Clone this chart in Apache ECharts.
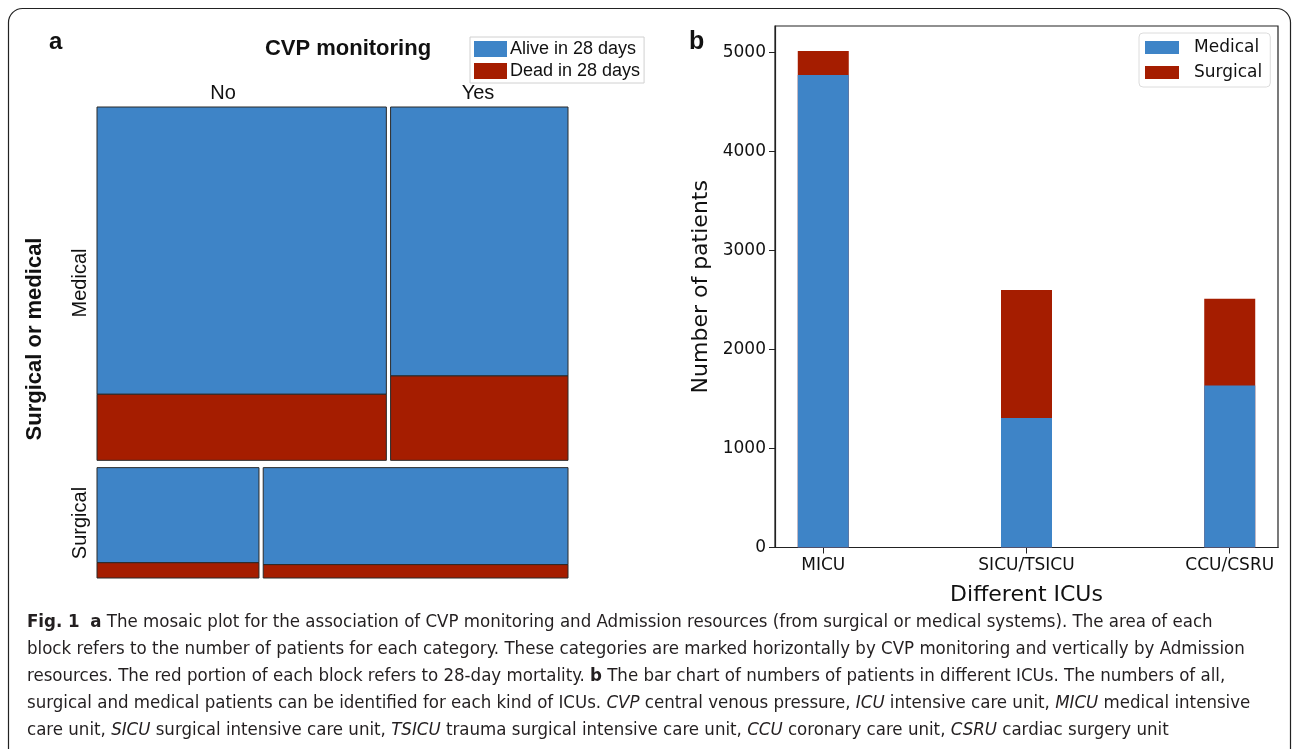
<!DOCTYPE html>
<html>
<head>
<meta charset="utf-8">
<script src="https://cdn.jsdelivr.net/npm/echarts@6/dist/echarts.min.js"></script>
<style>
    html, body { margin: 0; padding: 0; background: #fff; }
    #main { width: 1293px; height: 749px; }
</style>
</head>
<body>
<div id="main"></div>
<script>
    // panel a: mosaic (rows = admission source, cols = CVP monitoring)
    var rowNames = ['Medical', 'Surgical'];
    var colNames = ['No', 'Yes'];
    var aliveCounts = [[3892, 2234], [721, 1384]];
    var deadCounts = [[895, 701], [116, 191]];

    // panel b: patients per ICU
    var icuNames = ['MICU', 'SICU/TSICU', 'CCU/CSRU'];
    var medicalCounts = [4776, 1308, 1638];
    var surgicalCounts = [242, 1295, 875];
    var yTicks = [0, 1000, 2000, 3000, 4000, 5000];

    var blue = '#3e84c7', red = '#a51d00';
    var gapX = 0.009, gapY = 0.0155;

    // mosaic layout in 0..1 units, computed from the counts
    function mosaicCell(r, c) {
        var rowTot = [], grand = 0;
        for (var i = 0; i < rowNames.length; i++) {
            var t = 0;
            for (var j = 0; j < colNames.length; j++) t += aliveCounts[i][j] + deadCounts[i][j];
            rowTot.push(t);
            grand += t;
        }
        var hAvail = 1 - gapY * (rowNames.length - 1);
        var y0 = r * gapY;
        for (var i = 0; i < r; i++) y0 += hAvail * rowTot[i] / grand;
        var h = hAvail * rowTot[r] / grand;
        var wAvail = 1 - gapX * (colNames.length - 1);
        var x0 = c * gapX;
        for (var j = 0; j < c; j++) x0 += wAvail * (aliveCounts[r][j] + deadCounts[r][j]) / rowTot[r];
        var cellTot = aliveCounts[r][c] + deadCounts[r][c];
        var w = wAvail * cellTot / rowTot[r];
        return { x0: x0, x1: x0 + w, y0: y0, y1: y0 + h, split: y0 + h * aliveCounts[r][c] / cellTot };
    }

    function renderCell(params, api) {
        var cell = mosaicCell(api.value(0), api.value(1));
        var dead = api.value(2) === 1;
        var p0 = api.coord([cell.x0, dead ? cell.split : cell.y0]);
        var p1 = api.coord([cell.x1, dead ? cell.y1 : cell.split]);
        return {
            type: 'rect',
            shape: { x: p0[0], y: p0[1], width: p1[0] - p0[0], height: p1[1] - p0[1] },
            style: { fill: api.visual('color'), stroke: '#2a2a2a', lineWidth: 1 }
        };
    }

    function cellData(part) {
        var out = [];
        for (var r = 0; r < rowNames.length; r++) {
            for (var c = 0; c < colNames.length; c++) out.push([r, c, part]);
        }
        return out;
    }

    // bars sit on a numeric x axis (0,1,2), the red part is drawn as the full total behind the blue one
    var medicalPairs = medicalCounts.map(function (v, i) { return [i, v]; });
    var totalPairs = medicalCounts.map(function (v, i) { return [i, v + surgicalCounts[i]]; });

    var captionFont = "'Liberation Sans Narrow', 'DejaVu Sans Condensed', sans-serif";
    var captionSize = 18.5;
    var captionLines = [
        '{b|Fig. 1}  {b|a} The mosaic plot for the association of CVP monitoring and Admission resources (from surgical or medical systems). The area of each',
        'block refers to the number of patients for each category. These categories are marked horizontally by CVP monitoring and vertically by Admission',
        'resources. The red portion of each block refers to 28-day mortality. {b|b} The bar chart of numbers of patients in different ICUs. The numbers of all,',
        'surgical and medical patients can be identified for each kind of ICUs. {i|CVP} central venous pressure, {i|ICU} intensive care unit, {i|MICU} medical intensive',
        'care unit, {i|SICU} surgical intensive care unit, {i|TSICU} trauma surgical intensive care unit, {i|CCU} coronary care unit, {i|CSRU} cardiac surgery unit'
    ];

    function drawChart() {
        var chart = echarts.init(document.getElementById('main'));
        var graphics = [
            {
                type: 'rect', silent: true, z: -1,
                shape: { x: 8.5, y: 8.5, width: 1282, height: 760, r: 14 },
                style: { fill: 'none', stroke: '#222', lineWidth: 1.2 }
            },
            { type: 'text', x: 49, y: 30, style: { text: 'a', font: 'bold 24px Liberation Sans', fill: '#111' } },
            { type: 'text', x: 689, y: 30, style: { text: 'b', font: 'bold 25px Liberation Sans', fill: '#111' } },
            { type: 'text', x: 348, y: 49, style: { text: 'CVP monitoring', font: 'bold 22px Liberation Sans', fill: '#111', align: 'center', verticalAlign: 'middle' } },
            { type: 'text', x: 223, y: 93, style: { text: colNames[0], font: '20px Liberation Sans', fill: '#111', align: 'center', verticalAlign: 'middle' } },
            { type: 'text', x: 478, y: 93, style: { text: colNames[1], font: '20px Liberation Sans', fill: '#111', align: 'center', verticalAlign: 'middle' } },
            { type: 'text', x: 80, y: 283, rotation: Math.PI / 2, style: { text: rowNames[0], font: '20px Liberation Sans', fill: '#111', align: 'center', verticalAlign: 'middle' } },
            { type: 'text', x: 80, y: 523, rotation: Math.PI / 2, style: { text: rowNames[1], font: '20px Liberation Sans', fill: '#111', align: 'center', verticalAlign: 'middle' } },
            { type: 'text', x: 35, y: 339, rotation: Math.PI / 2, style: { text: 'Surgical or medical', font: 'bold 22px Liberation Sans', fill: '#111', align: 'center', verticalAlign: 'middle' } }
        ];
        captionLines.forEach(function (line, i) {
            graphics.push({
                type: 'text', x: 27, y: 622 + i * 27,
                style: {
                    text: line, fontFamily: captionFont, fontSize: captionSize, fill: '#231f20', verticalAlign: 'middle',
                    rich: {
                        b: { fontFamily: captionFont, fontSize: captionSize, fontWeight: 'bold', fill: '#231f20' },
                        i: { fontFamily: captionFont, fontSize: captionSize, fontStyle: 'italic', fill: '#231f20' }
                    }
                }
            });
        });

        chart.setOption({
            animation: false,
            graphic: graphics,
            legend: [
                {
                    data: ['Alive in 28 days', 'Dead in 28 days'],
                    orient: 'vertical', left: 470, top: 37,
                    itemWidth: 33, itemHeight: 16, itemGap: 4, icon: 'rect',
                    padding: [3, 4, 3, 4],
                    borderColor: '#d0d0d0', borderWidth: 1,
                    textStyle: { fontFamily: 'Liberation Sans', fontSize: 18, color: '#111', padding: [0, 0, 0, -2] }
                },
                {
                    data: ['Medical', 'Surgical'],
                    orient: 'vertical', left: 1139, top: 33,
                    itemWidth: 34, itemHeight: 13, itemGap: 8, icon: 'rect',
                    padding: [6, 8, 6, 6],
                    borderColor: '#dcdcdc', borderWidth: 1, borderRadius: 4,
                    textStyle: { fontFamily: 'DejaVu Sans', fontSize: 17, color: '#111', padding: [0, 0, 0, 10] }
                }
            ],
            grid: [
                { left: 97, top: 107, width: 471, height: 471 },
                { left: 775, top: 26, right: 15, bottom: 201.5, show: true, borderColor: '#222', borderWidth: 1.2, backgroundColor: 'transparent' }
            ],
            xAxis: [
                { gridIndex: 0, type: 'value', min: 0, max: 1, show: false },
                {
                    gridIndex: 1, type: 'value', min: -0.2375, max: 2.2375,
                    name: 'Different ICUs', nameLocation: 'middle', nameGap: 37,
                    nameTextStyle: { fontFamily: 'DejaVu Sans', fontSize: 22, color: '#111' },
                    axisLine: { onZero: false, lineStyle: { color: '#222', width: 1.2 } },
                    axisTick: { length: 6, lineStyle: { color: '#222' }, customValues: [0, 1, 2] },
                    splitLine: { show: false },
                    axisLabel: {
                        customValues: [0, 1, 2], margin: 10,
                        fontFamily: 'DejaVu Sans', fontSize: 17, color: '#111',
                        formatter: function (v) { return icuNames[v]; }
                    }
                }
            ],
            yAxis: [
                { gridIndex: 0, type: 'value', min: 0, max: 1, inverse: true, show: false },
                {
                    gridIndex: 1, type: 'value', min: 0, max: 5270, interval: 1000,
                    name: 'Number of patients', nameLocation: 'middle', nameGap: 63,
                    nameTextStyle: { fontFamily: 'DejaVu Sans', fontSize: 22, color: '#111' },
                    axisLine: { show: true, onZero: false, lineStyle: { color: '#222', width: 1.2 } },
                    axisTick: { show: true, length: 6, lineStyle: { color: '#222' }, customValues: yTicks },
                    splitLine: { show: false },
                    axisLabel: {
                        customValues: yTicks, margin: 9, fontFamily: 'DejaVu Sans', fontSize: 17, color: '#111',
                        formatter: function (v) { return String(v); }
                    }
                }
            ],
            series: [
                {
                    name: 'Alive in 28 days', type: 'custom', xAxisIndex: 0, yAxisIndex: 0,
                    itemStyle: { color: blue }, renderItem: renderCell, data: cellData(0)
                },
                {
                    name: 'Dead in 28 days', type: 'custom', xAxisIndex: 0, yAxisIndex: 0,
                    itemStyle: { color: red }, renderItem: renderCell, data: cellData(1)
                },
                {
                    name: 'Surgical', type: 'bar', xAxisIndex: 1, yAxisIndex: 1, z: 2,
                    barWidth: 51, barGap: '-100%', itemStyle: { color: red }, data: totalPairs
                },
                {
                    name: 'Medical', type: 'bar', xAxisIndex: 1, yAxisIndex: 1, z: 3,
                    barWidth: 51, barGap: '-100%', itemStyle: { color: blue }, data: medicalPairs
                }
            ]
        });
    }

    drawChart();
</script>
</body>
</html>
